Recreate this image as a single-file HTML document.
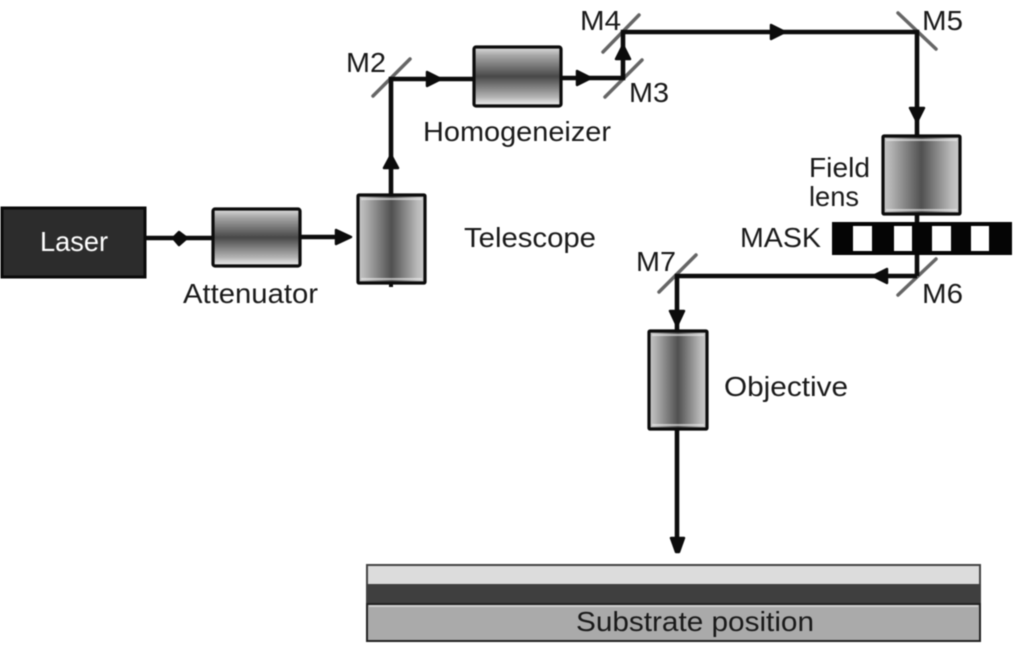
<!DOCTYPE html>
<html><head><meta charset="utf-8"><style>
html,body{margin:0;padding:0;background:#fff;width:1015px;height:648px;overflow:hidden}
svg{filter:blur(.55px)}
text{font-family:"Liberation Sans",sans-serif;fill:#1a1a1a;font-size:28px}
</style></head><body>
<svg width="1015" height="648" viewBox="0 0 1015 648" xmlns="http://www.w3.org/2000/svg">
<defs>
<linearGradient id="h" x1="0" y1="0" x2="1" y2="0">
<stop offset="0" stop-color="#c8c8c8"/><stop offset=".1" stop-color="#b4b4b4"/><stop offset=".5" stop-color="#505050"/><stop offset=".88" stop-color="#b8b8b8"/><stop offset="1" stop-color="#cccccc"/>
</linearGradient>
<linearGradient id="v" x1="0" y1="0" x2="0" y2="1">
<stop offset="0" stop-color="#e4e4e4"/><stop offset=".06" stop-color="#c8c8c8"/><stop offset=".14" stop-color="#a8a8a8"/><stop offset=".5" stop-color="#484848"/><stop offset=".85" stop-color="#b4b4b4"/><stop offset=".94" stop-color="#dcdcdc"/><stop offset="1" stop-color="#eeeeee"/>
</linearGradient>
</defs>

<!-- mirrors -->
<g stroke="#666" stroke-width="3.5" fill="none" stroke-linecap="round">
<line x1="373" y1="96" x2="410" y2="59"/>
<line x1="603" y1="52" x2="639" y2="15"/>
<line x1="605" y1="97" x2="642" y2="60"/>
<line x1="898" y1="13" x2="936" y2="49"/>
<line x1="898" y1="295" x2="936" y2="259"/>
<line x1="659" y1="292" x2="696" y2="255"/>
</g>

<!-- beams -->
<g stroke="#0c0c0c" stroke-width="4.6" fill="none">
<line x1="144" y1="238" x2="214" y2="238"/>
<line x1="300" y1="237" x2="345" y2="237"/>
<polyline points="391,196 391,79 474,79"/>
<polyline points="561,78 623,78 623,32 917,32 917,137"/>
<line x1="917" y1="214" x2="917" y2="276"/>
<polyline points="917,276 677,276 677,332"/>
<line x1="677" y1="428" x2="677" y2="542"/>
</g>

<!-- arrowheads -->
<g fill="#0c0c0c" stroke="#0c0c0c" stroke-width="2.5" stroke-linejoin="round">
<path d="M173 238 L179 232 L187 238 L179 245Z"/>
<path d="M336 230 L351 237 L336 244Z"/>
<path d="M391 155 L398 168 L384 168Z"/>
<path d="M427 72 L441 79 L427 86Z"/>
<path d="M577 71 L591 78 L577 85Z"/>
<path d="M623 45 L630 59 L616 59Z"/>
<path d="M771 25 L785 32 L771 39Z"/>
<path d="M910 108 L924 108 L917 122Z"/>
<path d="M887 269 L873 276 L887 283Z"/>
<path d="M670 311 L684 311 L677 326Z"/>
<path d="M671 538 L684 538 L679 552 L676 552Z"/>
</g>

<!-- Laser -->
<rect x="2" y="208" width="143" height="69" fill="#2c2c2c" stroke="#0a0a0a" stroke-width="3"/>
<text x="40" y="251" style="fill:#fff" textLength="68" lengthAdjust="spacingAndGlyphs">Laser</text>

<!-- boxes -->
<rect x="213" y="209" width="87" height="57" rx="2" fill="url(#v)" stroke="#0c0c0c" stroke-width="3.2"/>
<rect x="358" y="195" width="67" height="88" rx="1" fill="url(#h)" stroke="#0c0c0c" stroke-width="3.2"/>
<line x1="391" y1="283" x2="391" y2="287" stroke="#0c0c0c" stroke-width="4"/>
<rect x="474" y="47" width="87" height="59" rx="2" fill="url(#v)" stroke="#0c0c0c" stroke-width="3.2"/>
<rect x="883" y="136" width="77" height="78" rx="1" fill="url(#h)" stroke="#0c0c0c" stroke-width="3.2"/>
<rect x="649" y="331" width="58" height="98" rx="1" fill="url(#h)" stroke="#0c0c0c" stroke-width="3.2"/>
<!-- highlights on vertical-gradient lenses -->
<g stroke="#f0f0f0" stroke-width="2" opacity=".6">
<line x1="361" y1="199" x2="422" y2="199"/><line x1="361" y1="279" x2="422" y2="279"/>
<line x1="886" y1="140" x2="957" y2="140"/><line x1="886" y1="210" x2="957" y2="210"/>
<line x1="652" y1="335" x2="704" y2="335"/><line x1="652" y1="425" x2="704" y2="425"/>
</g>

<!-- Mask -->
<rect x="832" y="222" width="180" height="33" fill="#050505"/>
<g fill="#fff">
<rect x="853" y="226" width="19" height="25"/>
<rect x="894" y="226" width="18" height="25"/>
<rect x="932" y="226" width="19" height="25"/>
<rect x="971" y="226" width="18" height="25"/>
</g>

<!-- Substrate -->
<rect x="367" y="565" width="613" height="20" fill="#dcdcdc" stroke="#444" stroke-width="2"/>
<rect x="366" y="584" width="615" height="20" fill="#3f3f3f"/>
<rect x="367" y="604" width="613" height="37" fill="#aaaaaa" stroke="#222" stroke-width="2"/>
<line x1="369" y1="606" x2="978" y2="606" stroke="#cfcfcf" stroke-width="2"/>

<!-- labels -->
<text x="183" y="303" textLength="135" lengthAdjust="spacingAndGlyphs">Attenuator</text>
<text x="464" y="247" textLength="132" lengthAdjust="spacingAndGlyphs">Telescope</text>
<text x="423" y="141" textLength="188" lengthAdjust="spacingAndGlyphs">Homogeneizer</text>
<text x="346" y="72" textLength="40" lengthAdjust="spacingAndGlyphs">M2</text>
<text x="580" y="30" textLength="41" lengthAdjust="spacingAndGlyphs">M4</text>
<text x="629" y="102" textLength="40" lengthAdjust="spacingAndGlyphs">M3</text>
<text x="922" y="30" textLength="41" lengthAdjust="spacingAndGlyphs">M5</text>
<text x="922" y="303" textLength="41" lengthAdjust="spacingAndGlyphs">M6</text>
<text x="636" y="271" textLength="40" lengthAdjust="spacingAndGlyphs">M7</text>
<text x="809" y="177" textLength="61" lengthAdjust="spacingAndGlyphs">Field</text>
<text x="809" y="206" textLength="50" lengthAdjust="spacingAndGlyphs">lens</text>
<text x="740" y="247" textLength="81" lengthAdjust="spacingAndGlyphs">MASK</text>
<text x="724" y="396" textLength="124" lengthAdjust="spacingAndGlyphs">Objective</text>
<text x="576" y="631" textLength="238" lengthAdjust="spacingAndGlyphs">Substrate position</text>
</svg>
</body></html>
